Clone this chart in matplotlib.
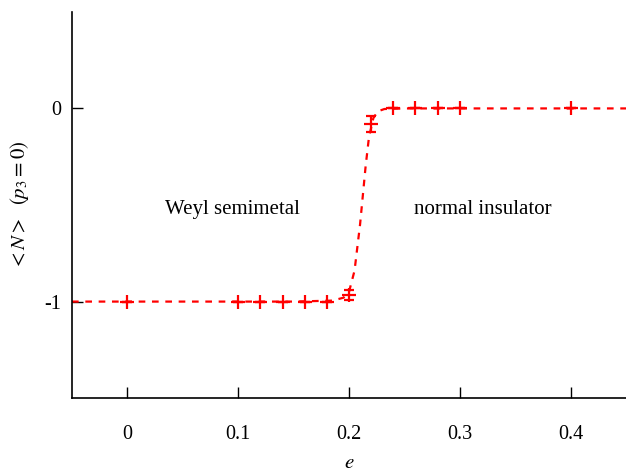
import matplotlib
matplotlib.use("Agg")
import matplotlib.pyplot as plt

plt.rcParams['font.family'] = ['Liberation Serif', 'DejaVu Serif']
plt.rcParams['mathtext.fontset'] = 'stix'

# measured points
e_vals = [0.0, 0.1, 0.12, 0.14, 0.16, 0.18, 0.2, 0.22, 0.24, 0.26, 0.28, 0.30, 0.40]
N_vals = [-1.0, -1.0, -1.0, -1.0, -1.0, -1.0, -0.965, -0.08, 0.0, 0.0, 0.0, 0.0, 0.0]
N_err = [0.0, 0.0, 0.0, 0.0, 0.0, 0.0, 0.025, 0.04, 0.0, 0.0, 0.0, 0.0, 0.0]

# fit curve
fit_e = [-0.05, 0.15, 0.185, 0.195, 0.200, 0.205, 0.210, 0.215, 0.218, 0.222, 0.226, 0.232, 0.25, 0.45]
fit_N = [-1.0, -1.0, -0.995, -0.98, -0.95, -0.84, -0.6, -0.3, -0.15, -0.05, -0.015, -0.003, 0.0, 0.0]

fig = plt.figure(figsize=(6.26, 4.74), dpi=100)
ax = fig.add_axes([0.115, 0.160, 0.885, 0.815])

ax.plot(fit_e, fit_N, color='red', linestyle=(0, (3, 3)), linewidth=1.6)
ax.errorbar(e_vals, N_vals, yerr=N_err, fmt='+', color='red', markersize=10,
            markeredgewidth=1.6, capsize=3.5, elinewidth=1.4, capthick=1.4)

ax.set_xlim(-0.05, 0.45)
ax.set_ylim(-1.5, 0.5)
ax.set_xticks([0, 0.1, 0.2, 0.3, 0.4])
ax.set_xticklabels(['0', '0.1', '0.2', '0.3', '0.4'])
ax.set_yticks([-1, 0])
ax.set_yticklabels(['-1', '0'])
ax.tick_params(direction='in', length=8, labelsize=14.5, width=1)
ax.tick_params(axis='x', pad=19)
ax.tick_params(axis='y', pad=8)
for s in ['top', 'right']:
    ax.spines[s].set_visible(False)
for s in ['left', 'bottom']:
    ax.spines[s].set_linewidth(1.2)

xl = ax.set_xlabel(r'$e$', fontsize=15)
xl.set_va('center')
ax.xaxis.set_label_coords(0.5, -0.168)
yl = ax.set_ylabel(r'$<N>$  $(p_3=0)$', fontsize=15)
yl.set_va('center')
ax.yaxis.set_label_coords(-0.094, 0.5)

ax.text(0.0946, -0.523, 'Weyl semimetal', ha='center', va='center', fontsize=15)
ax.text(0.321, -0.523, 'normal insulator', ha='center', va='center', fontsize=15)

fig.savefig('out.png', dpi=100)
